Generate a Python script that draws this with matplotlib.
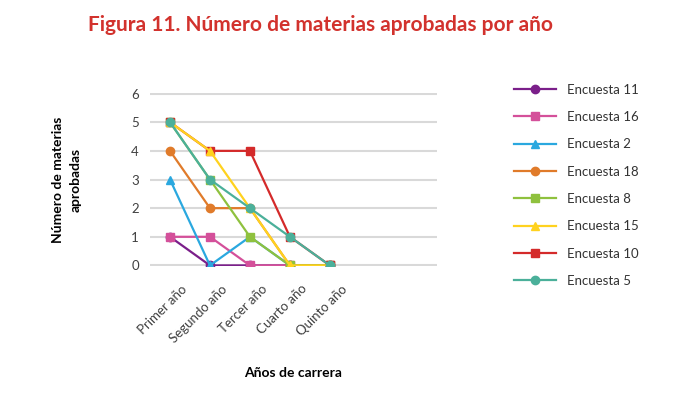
#! /bin/python3

import matplotlib
matplotlib.use('Agg')
import matplotlib.pyplot as plt
import matplotlib.transforms as mtrans

# datos
years = ['Primer año', 'Segundo año', 'Tercer año', 'Cuarto año', 'Quinto año']
names = ['Encuesta 11', 'Encuesta 16', 'Encuesta 2', 'Encuesta 18',
         'Encuesta 8', 'Encuesta 15', 'Encuesta 10', 'Encuesta 5']
enc11 = [1, 0, 0, 0, 0]
enc16 = [1, 1, 0, 0, 0]
enc2 = [3, 0, 1, 0, 0]
enc18 = [4, 2, 2, 0, 0]
enc8 = [5, 3, 1, 0, 0]
enc15 = [5, 4, 2, 0, 0]
enc10 = [5, 4, 4, 1, 0]
enc5 = [5, 3, 2, 1, 0]
series = [enc11, enc16, enc2, enc18, enc8, enc15, enc10, enc5]

cols = ['#7b1f8a', '#d4509a', '#2aa8df', '#e07b2a',
        '#8fc13e', '#ffd21f', '#d42a2a', '#4bb09a']
marks = ['o', 's', '^', 'o', 's', '^', 's', 'o']
zord = [3, 3, 3, 3, 3, 5, 4, 6]

plt.rcParams['font.family'] = ['Lato', 'DejaVu Sans']

fig = plt.figure(figsize=(6.9, 3.99), dpi=100)
ax = fig.add_axes([0.2174, 0.3333, 0.4159, 0.4336])

x = list(range(len(years)))
for vals, na, co, mk, zo in zip(series, names, cols, marks, zord):
    ax.plot(x, vals, color=co, marker=mk, markersize=6, linewidth=1.6,
            label=na, zorder=zo)

ax.set_xticks(x)
ax.set_xticklabels(years, rotation=45, ha='right', rotation_mode='anchor')
ax.set_yticks(range(0, 7))
ax.tick_params(length=0, labelsize=9.5, colors='#404040', pad=8)
# correr las etiquetas un poco a la derecha y abajo
off = mtrans.ScaledTranslation(8 / 72, -4 / 72, fig.dpi_scale_trans)
for lab in ax.get_xticklabels():
    lab.set_transform(lab.get_transform() + off)
ax.yaxis.grid(True, color='#d9d9d9', linewidth=1.5, zorder=0)
ax.set_axisbelow(True)
for s in ax.spines.values():
    s.set_visible(False)
ax.set_xlim(-0.5, 6.68)
ax.set_ylim(-0.02, 6.02)

ax.set_xlabel('Años de carrera', fontsize=10, fontweight='bold', labelpad=16)
ax.set_ylabel('Número de materias\naprobadas', fontsize=10, fontweight='bold',
              labelpad=36, linespacing=1.5)

fig.legend(loc='upper left', bbox_to_anchor=(0.728, 0.82), frameon=False,
           fontsize=9.5, labelspacing=1.16, handlelength=3.2, handletextpad=0.8,
           labelcolor='#333333')

fig.text(0.465, 0.937, 'Figura 11. Número de materias aprobadas por año',
         ha='center', va='center', color='#d2322d', fontsize=15,
         fontweight='bold')

plt.savefig('out.png', dpi=100)
plt.close()
